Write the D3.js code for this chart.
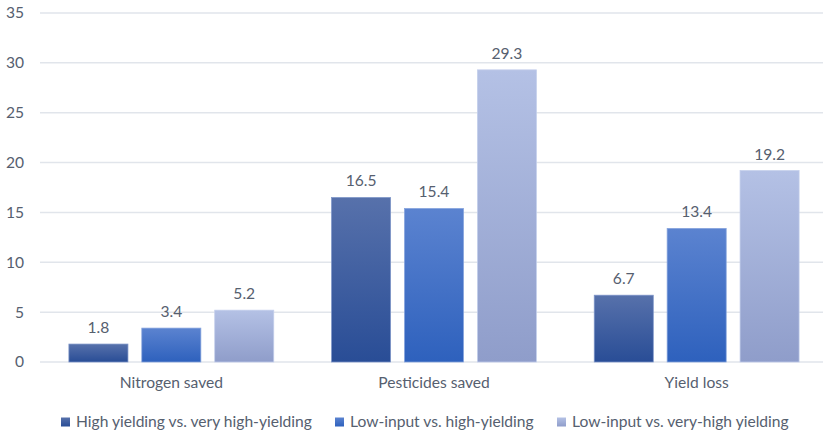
<!DOCTYPE html>
<html>
<head>
<meta charset="utf-8">
<script src="https://cdn.jsdelivr.net/npm/d3@7"></script>
<style>
  html, body { margin: 0; padding: 0; background: #fff; }
  svg { display: block; font-family: Lato, "Open Sans", sans-serif; }
  .grid line { stroke: #e1e5eb; stroke-width: 1.5; }
  .tick-label, .cat-label, .val-label, .legend-label { fill: #56606f; }
</style>
</head>
<body>
<svg id="chart"></svg>
<script>
'use strict';

// ── Data ──────────────────────────────────────────────────────────────────
const categories = ['Nitrogen saved', 'Pesticides saved', 'Yield loss'];
const seriesNames = [
  'High yielding vs. very high-yielding',
  'Low-input vs. high-yielding',
  'Low-input vs. very-high yielding'
];
const highVsVeryHigh = [1.8, 16.5, 6.7];
const lowVsHigh      = [3.4, 15.4, 13.4];
const lowVsVeryHigh  = [5.2, 29.3, 19.2];
const yTicks = [0, 5, 10, 15, 20, 25, 30, 35];

const seriesValues = [highVsVeryHigh, lowVsHigh, lowVsVeryHigh];

// ── Styles ────────────────────────────────────────────────────────────────
const GRADIENTS = [
  { top: '#5771ab', bottom: '#294d96', stroke: '#7d95c8' },
  { top: '#5b83d0', bottom: '#2e61bd', stroke: '#86a4dd' },
  { top: '#b4c1e5', bottom: '#8f9dca', stroke: '#c4cfec' }
];
const FONT = 15.6;

const width = 823, height = 430;
const margin = { left: 40, right: -5, top: 13, bottom: 69 };

const svg = d3.select('#chart').attr('width', width).attr('height', height);

const defs = svg.append('defs');
GRADIENTS.forEach((g, i) => {
  const lg = defs.append('linearGradient')
    .attr('id', 'grad' + i)
    .attr('x1', 0).attr('y1', 0).attr('x2', 0).attr('y2', 1);
  lg.append('stop').attr('offset', '0%').attr('stop-color', g.top);
  lg.append('stop').attr('offset', '100%').attr('stop-color', g.bottom);
});

// ── Scales ────────────────────────────────────────────────────────────────
const y = d3.scaleLinear()
  .domain([0, 35])
  .range([height - margin.bottom + 1, margin.top]);

const x0 = d3.scaleBand()
  .domain(categories)
  .range([margin.left, width - margin.right])
  .paddingInner(0.22)
  .paddingOuter(0.11);

const x1 = d3.scaleBand()
  .domain(d3.range(seriesNames.length))
  .range([0, x0.bandwidth()])
  .paddingInner(0.19)
  .paddingOuter(0);

// ── Gridlines & y labels ──────────────────────────────────────────────────
const grid = svg.append('g').attr('class', 'grid');
grid.selectAll('line').data(yTicks).join('line')
  .attr('x1', margin.left).attr('x2', width)
  .attr('y1', d => y(d)).attr('y2', d => y(d));

svg.append('g').selectAll('text').data(yTicks).join('text')
  .attr('class', 'tick-label')
  .attr('x', 24)
  .attr('y', d => y(d))
  .attr('dy', '0.35em')
  .attr('text-anchor', 'end')
  .attr('font-size', FONT)
  .text(d => d);

// ── Bars ──────────────────────────────────────────────────────────────────
const groups = svg.append('g').selectAll('g').data(categories).join('g')
  .attr('transform', c => `translate(${x0(c)},0)`);

groups.each(function (c, ci) {
  const g = d3.select(this);
  const vals = seriesValues.map((s, si) => ({ si, v: s[ci] }));

  g.selectAll('rect').data(vals).join('rect')
    .attr('x', d => x1(d.si))
    .attr('width', x1.bandwidth())
    .attr('y', d => y(d.v))
    .attr('height', d => y(0) - y(d.v))
    .attr('fill', d => `url(#grad${d.si})`)
    .attr('stroke', d => GRADIENTS[d.si].stroke)
    .attr('stroke-width', 0.75);

  g.selectAll('text').data(vals).join('text')
    .attr('class', 'val-label')
    .attr('x', d => x1(d.si) + x1.bandwidth() / 2)
    .attr('y', d => y(d.v) - 11)
    .attr('text-anchor', 'middle')
    .attr('font-size', FONT)
    .text(d => d.v.toFixed(1));
});

// ── Category labels ───────────────────────────────────────────────────────
svg.append('g').selectAll('text').data(categories).join('text')
  .attr('class', 'cat-label')
  .attr('x', c => x0(c) + x0.bandwidth() / 2)
  .attr('y', 383)
  .attr('dy', '0.35em')
  .attr('text-anchor', 'middle')
  .attr('font-size', FONT)
  .text(c => c);

// ── Legend ────────────────────────────────────────────────────────────────
const legendX = [61, 335, 557];
const legend = svg.append('g').selectAll('g').data(seriesNames).join('g')
  .attr('transform', (d, i) => `translate(${legendX[i]},422)`);

legend.append('rect')
  .attr('x', 0).attr('y', -4.5)
  .attr('width', 9).attr('height', 9)
  .attr('fill', (d, i) => `url(#grad${i})`);

legend.append('text')
  .attr('class', 'legend-label')
  .attr('x', 15)
  .attr('dy', '0.35em')
  .attr('font-size', FONT)
  .text(d => d);
</script>
</body>
</html>
